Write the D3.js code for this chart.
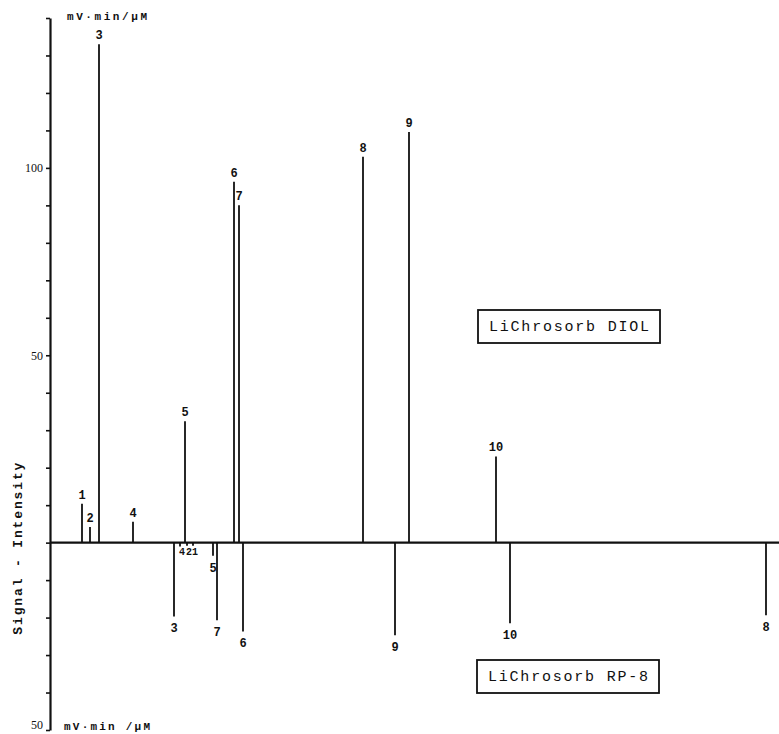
<!DOCTYPE html>
<html>
<head>
    <meta charset="UTF-8">
    <title>LiChrosorb DIOL / RP-8</title>
    <style>
        body { margin: 0; background: #fff; }
        .axis path, .axis line { fill: none; stroke: #111; }
        .axis path { stroke-width: 2.2px; }
        .axis line { stroke-width: 1.6px; }
        .axis text { font-family: "Liberation Serif", serif; font-size: 12px; fill: #111; }
        .peak { stroke: #111; stroke-width: 1.8px; }
        .plabel { font-family: "Liberation Mono", monospace; font-weight: bold; font-size: 12px; fill: #111; }
        .unit { font-family: "Liberation Mono", monospace; font-weight: bold; font-size: 11px; fill: #111; }
        .box rect { fill: none; stroke: #111; stroke-width: 1.8px; }
        .box text { font-family: "Liberation Mono", monospace; font-size: 15px; fill: #111; }
        .ytitle { font-family: "Liberation Mono", monospace; font-weight: bold; font-size: 13px; fill: #111; }
    </style>
</head>
<body>
<script src="https://cdn.jsdelivr.net/npm/d3@7/dist/d3.min.js"></script>
<script>
    // upper trace: LiChrosorb DIOL (peak number, retention position, signal)
    var diolPeaks = ["1", "2", "3", "4", "5", "6", "7", "8", "9", "10"];
    var diolTime = [3.2, 4.0, 4.9, 8.3, 13.5, 18.4, 18.9, 31.3, 35.9, 44.6];
    var diolSignal = [10.4, 4.2, 133, 5.6, 32.4, 96.3, 90, 103, 109.6, 23];

    // lower trace: LiChrosorb RP-8 (drawn downwards)
    var rp8Peaks = ["3", "4", "2", "1", "5", "7", "6", "9", "10", "8"];
    var rp8Time = [12.4, 13.0, 13.7, 14.3, 16.3, 16.7, 19.3, 34.5, 46.0, 71.6];
    var rp8Signal = [19.7, 1, 0.8, 0.8, 3.5, 20.7, 23.7, 24.7, 21.5, 19.4];

    var yTickValues = [-50, -40, -30, -20, -10, 0, 10, 20, 30, 40, 50, 60, 70, 80, 90, 100, 110, 120, 130, 140];
    var yLabelValues = [100, 50, -50];
    var yLabelText = ["100", "50", "50"];

    var width = 779, height = 734;

    var x = d3.scaleLinear().domain([0, 73]).range([50, 780]);
    var y = d3.scaleLinear().domain([-50, 140]).range([730, 18]);

    var svg = d3.select("body").append("svg")
        .attr("width", width)
        .attr("height", height);

    var yAxis = d3.axisLeft(y)
        .tickValues(yTickValues)
        .tickSize(4)
        .tickSizeOuter(0)
        .tickFormat(function(d) {
            var i = yLabelValues.indexOf(d);
            return i < 0 ? "" : yLabelText[i];
        });

    svg.append("g")
        .attr("class", "axis")
        .attr("color", "#111")
        .attr("transform", `translate(${x(0)},0)`)
        .call(yAxis)
        .selectAll("text")
        .attr("x", -7)
        .attr("dy", (d) => d < 0 ? "-0.1em" : "0.32em");

    // zero line
    svg.append("line")
        .attr("x1", x(0)).attr("x2", x(73))
        .attr("y1", y(0)).attr("y2", y(0))
        .attr("stroke", "#111")
        .attr("stroke-width", 2.2);

    var diol = diolPeaks.map((p, i) => ({name: p, t: diolTime[i], v: diolSignal[i]}));
    var rp8 = rp8Peaks.map((p, i) => ({name: p, t: rp8Time[i], v: rp8Signal[i]}));

    svg.selectAll(".peak.up")
        .data(diol)
        .enter().append("line")
        .attr("class", "peak up")
        .attr("x1", (d) => x(d.t)).attr("x2", (d) => x(d.t))
        .attr("y1", y(0)).attr("y2", (d) => y(d.v));

    svg.selectAll(".plabel.up")
        .data(diol)
        .enter().append("text")
        .attr("class", "plabel up")
        .attr("x", (d) => x(d.t))
        .attr("y", (d) => y(d.v) - 5)
        .attr("text-anchor", "middle")
        .text((d) => d.name);

    svg.selectAll(".peak.down")
        .data(rp8)
        .enter().append("line")
        .attr("class", "peak down")
        .attr("x1", (d) => x(d.t)).attr("x2", (d) => x(d.t))
        .attr("y1", y(0)).attr("y2", (d) => y(-d.v));

    svg.selectAll(".plabel.down")
        .data(rp8)
        .enter().append("text")
        .attr("class", "plabel down")
        .attr("x", (d) => x(d.t) + (d.v < 2 ? 2 : 0))
        .attr("y", (d) => y(-d.v) + (d.v < 2 ? 9 : 16))
        .attr("text-anchor", "middle")
        .style("font-size", (d) => d.v < 2 ? "10px" : null)
        .text((d) => d.name);

    // unit labels at both ends of the axis
    svg.append("text").attr("class", "unit")
        .attr("x", x(0) + 17).attr("y", 20)
        .attr("textLength", 80)
        .text("mV·min/μM");
    svg.append("text").attr("class", "unit")
        .attr("x", x(0) + 14).attr("y", 730)
        .attr("textLength", 86)
        .text("mV·min /μM");

    svg.append("text")
        .attr("class", "ytitle")
        .attr("transform", `translate(22,${y(0) + 6}) rotate(-90)`)
        .attr("text-anchor", "middle")
        .attr("textLength", 172)
        .text("Signal - Intensity");

    function labelBox(text, cx, cy) {
        var g = svg.append("g").attr("class", "box");
        g.append("rect")
            .attr("x", cx - 91).attr("y", cy - 16)
            .attr("width", 182).attr("height", 33);
        g.append("text")
            .attr("x", cx).attr("y", cy + 5)
            .attr("text-anchor", "middle")
            .attr("textLength", 160)
            .text(text);
    }

    labelBox("LiChrosorb DIOL", 569, 326);
    labelBox("LiChrosorb RP-8", 568, 676);
</script>
</body>
</html>
